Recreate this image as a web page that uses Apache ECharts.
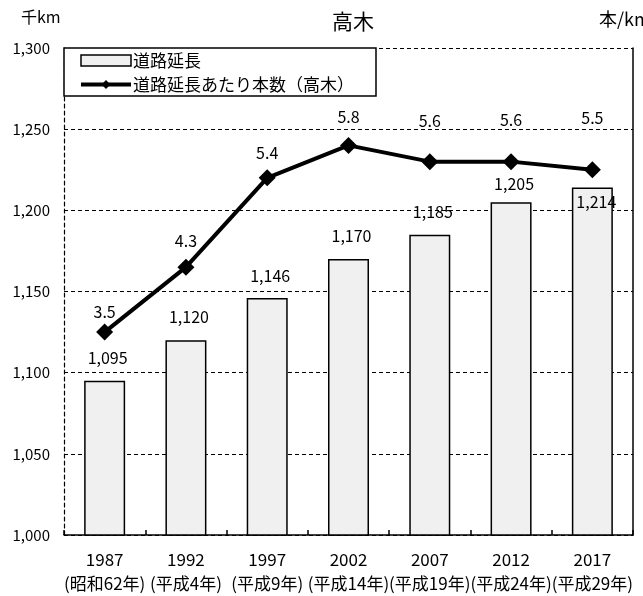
<!DOCTYPE html>
<html>
<head>
<meta charset="utf-8">
<script src="https://cdn.jsdelivr.net/npm/echarts@6/dist/echarts.min.js"></script>
<style>
  html, body { margin: 0; padding: 0; background: #fff; }
  #chart { width: 643px; height: 596px; }
</style>
</head>
<body>
<div id="chart"></div>
<script>
// Survey years and their Japanese era names
const years = ['1987', '1992', '1997', '2002', '2007', '2012', '2017'];
const eras = ['昭和62年', '平成4年', '平成9年', '平成14年', '平成19年', '平成24年', '平成29年'];

// Road length (thousand km) and tall trees per km of road
const roadLength = [1095, 1120, 1146, 1170, 1185, 1205, 1214];
const treesPerKm = [3.5, 4.3, 5.4, 5.8, 5.6, 5.6, 5.5];

// Left axis range (thousand km) and right axis range (trees/km)
const leftAxisRange = { min: 1000, max: 1300, interval: 50 };
const rightAxisRange = { min: 1, max: 7, interval: 1 };

const seriesNames = ['道路延長', '道路延長あたり本数（高木）'];

const FONT = '"Noto Sans CJK JP", "Noto Sans", sans-serif';

// Label spacing above each marker
const lineLabelGap = [4, 10, 8, 12, 24, 25, 35];
const barLabelGap = [15, 15, 14, 15, 15, 10, null];

const categories = years.map((y, i) => y + '\n(' + eras[i] + ')');

const barData = roadLength.map((v, i) => {
  const item = { value: v };
  if (barLabelGap[i] == null) {
    item.label = { position: 'insideTop', distance: 6, offset: [4, 0] };
  } else {
    item.label = { distance: barLabelGap[i], offset: [3, 0] };
  }
  return item;
});

const lineData = treesPerKm.map((v, i) => ({
  value: v,
  label: { distance: lineLabelGap[i] }
}));

const chart = echarts.init(document.getElementById('chart'));
chart.setOption({
  animation: false,
  backgroundColor: '#fff',
  textStyle: { fontFamily: FONT, color: '#000' },
  title: [
    { text: '高木', left: 332, top: 11, padding: 0,
      textStyle: { fontSize: 21, fontWeight: 'normal', color: '#000', fontFamily: FONT } },
    { text: '千km', left: 21, top: 9, padding: 0,
      textStyle: { fontSize: 16, fontWeight: 'normal', color: '#000', fontFamily: FONT } },
    { text: '本/km', left: 599, top: 10, padding: 0,
      textStyle: { fontSize: 18, fontWeight: 'normal', color: '#000', fontFamily: FONT } }
  ],
  legend: {
    orient: 'vertical',
    left: 64,
    top: 48,
    padding: [4, 22, 3, 15],
    itemGap: 7,
    itemWidth: 50,
    itemHeight: 11,
    backgroundColor: '#fff',
    borderColor: '#000',
    borderWidth: 1.5,
    borderRadius: 0,
    textStyle: { fontSize: 17, color: '#000', fontFamily: FONT, padding: [0, 0, 0, -3] },
    data: [
      { name: seriesNames[0], icon: 'rect', itemStyle: { borderWidth: 1.5 } },
      { name: seriesNames[1], lineStyle: { width: 4 } }
    ]
  },
  grid: { left: 64, right: 10, top: 48, bottom: 61, containLabel: false },
  xAxis: {
    type: 'category',
    data: categories,
    axisLine: { show: true, lineStyle: { color: '#000', width: 1.5 } },
    axisTick: { show: true, inside: true, length: 5, lineStyle: { color: '#000', width: 1.5 } },
    axisLabel: {
      interval: 0,
      fontSize: 17,
      lineHeight: 24,
      margin: 13,
      color: '#000',
      fontFamily: FONT
    },
    splitLine: { show: false }
  },
  yAxis: [
    {
      type: 'value',
      min: leftAxisRange.min,
      max: leftAxisRange.max,
      interval: leftAxisRange.interval,
      axisLine: { show: true, lineStyle: { color: '#000', width: 1.2, type: [4, 3] } },
      axisTick: { show: false },
      axisLabel: {
        fontSize: 15,
        color: '#000',
        margin: 14,
        fontFamily: FONT,
        formatter: v => v.toLocaleString('en-US')
      },
      splitLine: { show: true, lineStyle: { color: '#000', width: 1.2, type: [4, 3] } }
    },
    {
      type: 'value',
      min: rightAxisRange.min,
      max: rightAxisRange.max,
      interval: rightAxisRange.interval,
      position: 'right',
      axisLine: { show: true, lineStyle: { color: '#000', width: 1.5 } },
      axisTick: { show: false },
      axisLabel: { show: false },
      splitLine: { show: false }
    }
  ],
  series: [
    {
      name: seriesNames[0],
      type: 'bar',
      yAxisIndex: 0,
      barWidth: 41,
      data: barData,
      itemStyle: { color: '#f0f0f0', borderColor: '#000', borderWidth: 1.5 },
      label: {
        show: true,
        position: 'top',
        fontSize: 16,
        color: '#000',
        fontFamily: FONT,
        formatter: p => p.value.toLocaleString('en-US')
      },
      z: 2
    },
    {
      name: seriesNames[1],
      type: 'line',
      yAxisIndex: 1,
      data: lineData,
      symbol: 'diamond',
      symbolSize: 17,
      lineStyle: { color: '#000', width: 4 },
      itemStyle: { color: '#000' },
      label: {
        show: true,
        position: 'top',
        fontSize: 16,
        color: '#000',
        fontFamily: FONT,
        formatter: p => p.value.toFixed(1)
      },
      z: 3
    }
  ]
});
</script>
</body>
</html>
